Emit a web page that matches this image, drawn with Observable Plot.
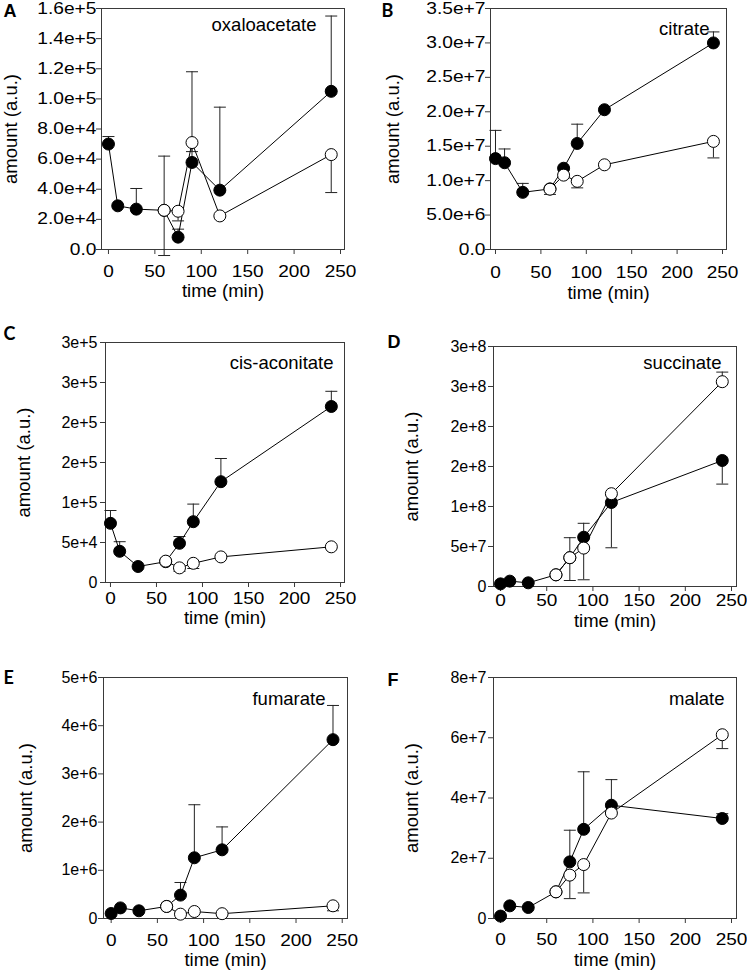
<!DOCTYPE html>
<html><head><meta charset="utf-8">
<script src="https://cdn.jsdelivr.net/npm/d3@7"></script>
<script src="https://cdn.jsdelivr.net/npm/@observablehq/plot@0.6"></script>
<style>
body{margin:0;background:#fff}
#root{position:relative;width:747px;height:975px;overflow:hidden;background:#fff}
.panel{position:absolute}
</style></head><body><div id="root"></div>
<script>
// ---- data ----
const timesFilled = [0, 10, 30, 60, 75, 90, 120, 240];
const timesOpen = [60, 75, 90, 120, 240];
const xTicks = [0, 50, 100, 150, 200, 250];

const oxaFilled    = [7.0e4, 2.9e4, 2.68e4, 2.6e4, 0.82e4, 5.78e4, 3.94e4, 1.05e5];
const oxaFilledErr = [7.5e4, null, 4.05e4, 6.2e4, 1.35e4, 1.18e5, 9.45e4, 1.55e5];
const oxaOpen      = [2.6e4, 2.54e4, 7.1e4, 2.23e4, 6.3e4];
const oxaOpenErr   = [-0.4e4, 1.9e4, 6.5e4, null, 3.78e4];

const citFilled    = [1.32e7, 1.26e7, 8.3e6, 8.8e6, 1.18e7, 1.54e7, 2.03e7, 3.0e7];
const citFilledErr = [1.73e7, 1.46e7, 9.6e6, null, null, 1.82e7, null, 3.16e7];
const citOpen      = [8.76e6, 1.08e7, 9.9e6, 1.23e7, 1.57e7];
const citOpenErr   = [8.0e6, null, 8.95e6, null, 1.33e7];

const cisFilled    = [7.4e4, 3.9e4, 2.0e4, 2.6e4, 4.9e4, 7.6e4, 1.26e5, 2.2e5];
const cisFilledErr = [9.0e4, 5.1e4, null, null, 5.75e4, 9.8e4, 1.55e5, 2.39e5];
const cisOpen      = [2.67e4, 1.83e4, 2.4e4, 3.2e4, 4.46e4];
const cisOpenErr   = [null, 1.4e4, 1.75e4, null, null];

const sucFilled    = [3.3e6, 6.7e6, 4.6e6, 1.46e7, 3.6e7, 6.16e7, 1.05e8, 1.575e8];
const sucFilledErr = [null, null, null, null, 6.1e7, 7.9e7, 4.84e7, 1.28e8];
const sucOpen      = [1.46e7, 3.6e7, 4.8e7, 1.16e8, 2.56e8];
const sucOpenErr   = [null, 0.75e7, 0.84e7, null, 2.68e8];

const fumFilled    = [1.04e5, 2.2e5, 1.6e5, 2.5e5, 4.85e5, 1.26e6, 1.425e6, 3.71e6];
const fumFilledErr = [null, null, null, null, 7.47e5, 2.36e6, 1.9e6, 4.42e6];
const fumOpen      = [2.5e5, 0.9e5, 1.45e5, 1.0e5, 2.63e5];
const fumOpenErr   = [null, null, null, null, 1.6e5];

const malFilled    = [0.8e6, 4.2e6, 3.65e6, 8.85e6, 1.88e7, 2.96e7, 3.76e7, 3.32e7];
const malFilledErr = [null, null, null, null, 2.93e7, 4.87e7, 4.61e7, 3.48e7];
const malOpen      = [8.85e6, 1.44e7, 1.79e7, 3.5e7, 6.1e7];
const malOpenErr   = [null, 0.66e7, 0.85e7, null, 5.64e7];

const oxaTicks = [0, 2e4, 4e4, 6e4, 8e4, 1e5, 1.2e5, 1.4e5, 1.6e5];
const oxaTickLabels = ["0.0","2.0e+4","4.0e+4","6.0e+4","8.0e+4","1.0e+5","1.2e+5","1.4e+5","1.6e+5"];
const citTicks = [0, 5e6, 1e7, 1.5e7, 2e7, 2.5e7, 3e7, 3.5e7];
const citTickLabels = ["0.0","5.0e+6","1.0e+7","1.5e+7","2.0e+7","2.5e+7","3.0e+7","3.5e+7"];
const cisTicks = [0, 5e4, 1e5, 1.5e5, 2e5, 2.5e5, 3e5];
const cisTickLabels = ["0","5e+4","1e+5","2e+5","2e+5","3e+5","3e+5"];
const sucTicks = [0, 5e7, 1e8, 1.5e8, 2e8, 2.5e8, 3e8];
const sucTickLabels = ["0","5e+7","1e+8","2e+8","2e+8","3e+8","3e+8"];
const fumTicks = [0, 1e6, 2e6, 3e6, 4e6, 5e6];
const fumTickLabels = ["0","1e+6","2e+6","3e+6","4e+6","5e+6"];
const malTicks = [0, 2e7, 4e7, 6e7, 8e7];
const malTickLabels = ["0","2e+7","4e+7","6e+7","8e+7"];

// ---- panels (data refs + layout) ----
const panels = [
  {letter:"A", name:"oxaloacetate", f:oxaFilled, fe:oxaFilledErr, o:oxaOpen, oe:oxaOpenErr, ticks:oxaTicks, labels:oxaTickLabels,
   left:0, top:0, w:374, h:320, mL:101, mR:30, mT:8, mB:71, xd:[-7.5,254.3], yd:[0,1.6e5],
   ytp:0, yfs:16, ysx:1.2, xtp:10, nameDx:-28, nameDy:17, ylDx:-90, xlDy:42, letDx:-98, letDy:8, letFont:"Liberation Sans"},
  {letter:"B", name:"citrate", f:citFilled, fe:citFilledErr, o:citOpen, oe:citOpenErr, ticks:citTicks, labels:citTickLabels,
   left:374, top:0, w:373, h:320, mL:116, mR:21, mT:8, mB:71, xd:[-5.5,254.4], yd:[0,3.5e7],
   ytp:0, yfs:16, ysx:1.2, xtp:11, nameDx:-17, nameDy:21, ylDx:-97, xlDy:44, letDx:-109, letDy:8, letFont:"Lato"},
  {letter:"C", name:"cis-aconitate", f:cisFilled, fe:cisFilledErr, o:cisOpen, oe:cisOpenErr, ticks:cisTicks, labels:cisTickLabels,
   left:0, top:320, w:374, h:320, mL:105, mR:30, mT:22, mB:58, xd:[-5.4,254.3], yd:[0,3e5],
   ytp:3, yfs:16, ysx:1, xtp:4, nameDx:-11, nameDy:21, ylDx:-81, xlDy:36, letDx:-102, letDy:-3, letFont:"Lato"},
  {letter:"D", name:"succinate", f:sucFilled, fe:sucFilledErr, o:sucOpen, oe:sucOpenErr, ticks:sucTicks, labels:sucTickLabels,
   left:374, top:320, w:373, h:320, mL:119, mR:11, mT:26, mB:54, xd:[-7.6,255.4], yd:[0,3e8],
   ytp:2, yfs:16, ysx:1, xtp:2, nameDx:-15, nameDy:17, ylDx:-81.5, xlDy:35, letDx:-106, letDy:1, letFont:"Liberation Sans"},
  {letter:"E", name:"fumarate", f:fumFilled, fe:fumFilledErr, o:fumOpen, oe:fumOpenErr, ticks:fumTicks, labels:fumTickLabels,
   left:0, top:640, w:374, h:335, mL:103, mR:27, mT:37, mB:57, xd:[-8.3,255.7], yd:[0,5e6],
   ytp:1, yfs:16, ysx:1, xtp:10, nameDx:-22, nameDy:22, ylDx:-77, xlDy:42, letDx:-100, letDy:6, letFont:"Lato"},
  {letter:"F", name:"malate", f:malFilled, fe:malFilledErr, o:malOpen, oe:malOpenErr, ticks:malTicks, labels:malTickLabels,
   left:374, top:640, w:373, h:335, mL:119, mR:11, mT:37, mB:57, xd:[-7.6,255.4], yd:[0,8e7],
   ytp:2, yfs:16, ysx:1, xtp:9, nameDx:-12, nameDy:22, ylDx:-81.5, xlDy:42, letDx:-106, letDy:8, letFont:"Liberation Sans"}
];

const capSymbol = {
  draw(context, size) {
    const r = Math.sqrt(size / Math.PI);
    context.moveTo(-r, 0);
    context.lineTo(r, 0);
  }
};

const root = document.getElementById("root");
const FONT = "'Liberation Sans', Arial, Helvetica, sans-serif";
const LABEL_FS = 18.5;

for (const p of panels) {
  const filled = timesFilled.map((t, i) => ({t, v: p.f[i], e: p.fe[i]}));
  const open = timesOpen.map((t, i) => ({t, v: p.o[i], e: p.oe[i]}));
  const fErr = filled.filter(d => d.e != null);
  const oErr = open.filter(d => d.e != null);
  const svg = Plot.plot({
    width: p.w, height: p.h,
    marginLeft: p.mL, marginRight: p.mR, marginTop: p.mT, marginBottom: p.mB,
    style: {fontFamily: FONT, color: "black", background: "transparent", overflow: "visible"},
    x: {domain: p.xd},
    y: {domain: p.yd},
    marks: [
      Plot.frame({stroke: "#3a3a3a", strokeWidth: 1}),
      Plot.axisY({ticks: p.ticks, tickFormat: d => p.labels[p.ticks.indexOf(d)], tickSize: 5, tickPadding: p.ytp, fontSize: p.yfs, label: null, stroke: "#3a3a3a"}),
      Plot.axisX({ticks: xTicks, tickSize: 5, tickPadding: p.xtp, fontSize: 17, label: null, stroke: "#3a3a3a"}),
      Plot.ruleX(fErr, {x: "t", y1: "v", y2: "e", stroke: "#222", strokeWidth: 1}),
      Plot.ruleX(oErr, {x: "t", y1: "v", y2: "e", stroke: "#222", strokeWidth: 1}),
      Plot.dot(fErr, {x: "t", y: "e", symbol: capSymbol, r: 6, stroke: "#222", fill: "none", strokeWidth: 1}),
      Plot.dot(oErr, {x: "t", y: "e", symbol: capSymbol, r: 6, stroke: "#222", fill: "none", strokeWidth: 1}),
      Plot.line(filled, {x: "t", y: "v", stroke: "black", strokeWidth: 1}),
      Plot.line(open, {x: "t", y: "v", stroke: "black", strokeWidth: 1}),
      Plot.dot(filled, {x: "t", y: "v", r: 6, fill: "black", stroke: "black", strokeWidth: 1}),
      Plot.dot(open, {x: "t", y: "v", r: 6, fill: "white", stroke: "black", strokeWidth: 1}),
      Plot.text([p.name], {frameAnchor: "top-right", dx: p.nameDx, dy: p.nameDy, textAnchor: "end", lineAnchor: "middle", fontSize: LABEL_FS}),
      Plot.text(["amount (a.u.)"], {frameAnchor: "left", rotate: -90, dx: p.ylDx, textAnchor: "middle", lineAnchor: "middle", fontSize: LABEL_FS}),
      Plot.text(["time (min)"], {frameAnchor: "bottom", dy: p.xlDy, textAnchor: "middle", lineAnchor: "middle", fontSize: LABEL_FS}),
      Plot.text([p.letter], {frameAnchor: "top-left", dx: p.letDx, dy: p.letDy, textAnchor: "start", lineAnchor: "bottom", fontSize: 18, fontWeight: "bold", fontFamily: p.letFont})
    ]
  });
  // horizontally widen tick labels around their anchors, as in the reference
  const widen = (sel, s) => {
    if (s === 1) return;
    svg.querySelectorAll(sel).forEach(t => {
      const tr = t.getAttribute("transform");
      if (tr) t.setAttribute("transform", tr + ` scale(${s},1)`);
      else {
        const x = +t.getAttribute("x") || 0;
        t.setAttribute("x", 0);
        t.setAttribute("transform", `translate(${x},0) scale(${s},1)`);
      }
    });
  };
  widen('g[aria-label="x-axis tick label"] text', 1.12);
  widen('g[aria-label="y-axis tick label"] text', p.ysx);
  const div = document.createElement("div");
  div.className = "panel";
  div.style.left = p.left + "px";
  div.style.top = p.top + "px";
  div.appendChild(svg);
  root.appendChild(div);
}
</script></body></html>
